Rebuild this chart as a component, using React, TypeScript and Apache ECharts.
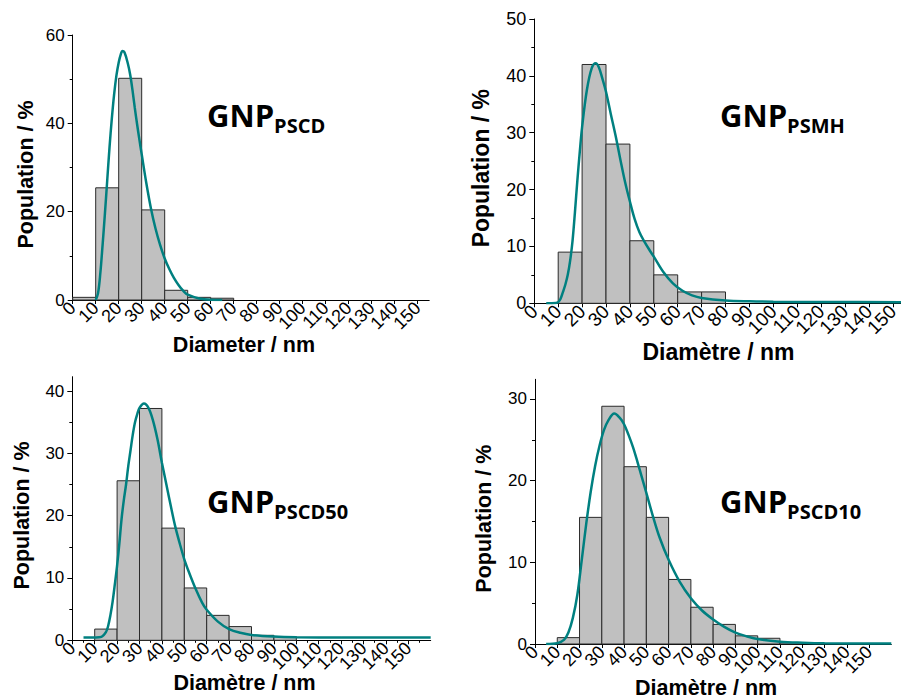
import React, { useEffect, useRef } from 'react';
import * as echarts from 'echarts';

// ---------- data ----------
const BIN_WIDTH = 10;

// GNP PSCD (top-left)
const pscdBinStart = [0, 10, 20, 30, 40, 50, 60];
const pscdPopulation = [0.6, 25.4, 50.2, 20.4, 2.2, 0.6, 0.4];
const pscdFitX = [10, 11, 12, 13, 14, 15, 16, 17, 18, 19, 20, 21, 21.6, 22.5, 24, 25, 26, 27, 28, 29, 30, 32, 34, 36, 38, 40, 42, 44, 46, 48, 50, 55, 60, 65];
const pscdFitY = [0, 1.5, 6, 12.5, 19.5, 27, 34.5, 41, 46.5, 50.8, 53.8, 55.8, 56.4, 56.1, 53.5, 51, 47.5, 43.5, 39.8, 36.3, 33, 26.5, 20.8, 16.2, 12.5, 9.4, 7, 5, 3.4, 2.1, 1.2, 0.35, 0.05, 0];

// GNP PSMH (top-right)
const psmhBinStart = [10, 20, 30, 40, 50, 60, 70];
const psmhPopulation = [9, 42, 28, 11, 5, 2, 2];
const psmhFitX = [5, 9, 10, 11, 12, 13, 14, 15, 16, 17, 18, 19, 20, 22, 24, 25.7, 27, 28.5, 30, 32, 34, 36, 38, 40, 42, 44, 46, 48, 50, 54, 58, 62, 66, 70, 80, 90, 100, 120, 160];
const psmhFitY = [0, 0.05, 0.2, 0.8, 2, 3.3, 5, 7.5, 11, 16, 21.5, 26.5, 31, 37.5, 41.3, 42.2, 41.5, 39.5, 37.2, 33.3, 29.5, 25.3, 21.3, 17.9, 14.8, 12.5, 10.9, 9.5, 8.2, 5.5, 3.5, 2.2, 1.4, 0.95, 0.5, 0.35, 0.28, 0.22, 0.2];

// GNP PSCD50 (bottom-left)
const pscd50BinStart = [10, 20, 30, 40, 50, 60, 70, 80, 90];
const pscd50Population = [1.8, 25.6, 37.2, 18.0, 8.4, 4.0, 2.2, 0.8, 0.6];
const pscd50FitX = [5, 10, 13, 15, 16, 17, 18, 19, 20, 21, 22, 23, 24, 25, 26, 27, 28, 29, 30, 32, 34, 36, 38, 40, 42, 44, 46, 48, 50, 52, 55, 58, 60, 65, 70, 75, 80, 90, 100, 120, 160];
const pscd50FitY = [0.43, 0.45, 0.55, 1.3, 2.3, 4, 6.2, 9, 12, 15.5, 19.5, 22.5, 25, 28, 30.5, 33, 35, 36.3, 37.3, 38, 37.3, 35.3, 32.3, 28.5, 25, 21.5, 18.2, 15.5, 13, 11, 8.3, 6, 4.9, 3, 1.8, 1.2, 0.85, 0.6, 0.5, 0.45, 0.43];

// GNP PSCD10 (bottom-right)
const pscd10BinStart = [10, 20, 30, 40, 50, 60, 70, 80, 90, 100, 110];
const pscd10Population = [0.78, 15.5, 29.1, 21.7, 15.5, 7.9, 4.5, 2.4, 1.0, 0.7, 0.15];
const pscd10FitX = [5, 10, 13, 15, 17, 19, 21, 23, 25, 27, 29, 31, 33, 35.6, 38, 40, 42, 44, 46, 48, 50, 53, 56, 60, 65, 70, 75, 80, 85, 90, 95, 100, 110, 120, 130, 160];
const pscd10FitY = [0, 0.1, 0.5, 1.4, 3.2, 6, 10.3, 14.7, 18.6, 21.8, 24.3, 26.2, 27.4, 28.2, 27.7, 26.9, 25.6, 24.1, 22.3, 20.4, 18.5, 15.6, 13, 10.3, 7.6, 5.6, 4.1, 3, 2.1, 1.4, 0.95, 0.6, 0.28, 0.15, 0.08, 0.05];

// tick values
const xTickValues = [0, 10, 20, 30, 40, 50, 60, 70, 80, 90, 100, 110, 120, 130, 140, 150];
const xLabelsEven = [0, 20, 40, 60, 80, 100, 120, 140];
const xLabelsOdd = [10, 30, 50, 70, 90, 110, 130, 150];
const xMinorPscd50 = [5, 15, 25, 35, 45, 55, 65, 75, 85, 95, 105, 115, 125, 135, 145, 155];
const yTicksPscd = [0, 20, 40, 60];
const yMinorPscd = [10, 30, 50];
const yTicksPsmh = [0, 10, 20, 30, 40, 50];
const yMinorPsmh = [5, 15, 25, 35, 45];
const yTicksPscd50 = [0, 10, 20, 30, 40];
const yMinorPscd50 = [5, 15, 25, 35];
const yTicksPscd10 = [0, 10, 20, 30];
const yMinorPscd10 = [5, 15, 25];

// texts
const yTitle = 'Population / %';
const xTitleEn = 'Diameter / nm';
const xTitleFr = 'Diamètre / nm';
const labelMain = 'GNP';
const labelSubs = ['PSCD', 'PSMH', 'PSCD50', 'PSCD10'];

// ---------- layout ----------
const AXIS_FONT = '"Liberation Sans", Arial, sans-serif';
const LABEL_FONT = '"Open Sans", "Noto Sans", sans-serif';
const TEAL = '#008080';

const panels = [
  {
    left: 72.7, top: 35, width: 356.5, height: 265, xMax: 155, yMax: 60,
    bins: pscdBinStart, pop: pscdPopulation, fitX: pscdFitX, fitY: pscdFitY,
    yTicks: yTicksPscd, yMinor: yMinorPscd, xMinor: null as number[] | null,
    xTitle: xTitleEn, tickFont: 17, xTickFont: 18, titleFont: 21.5, xGap: 34, yGap: 36,
    labelX: 207, labelTop: 95,
  },
  {
    left: 534.3, top: 19, width: 382.4, height: 284.3, xMax: 160, yMax: 50,
    bins: psmhBinStart, pop: psmhPopulation, fitX: psmhFitX, fitY: psmhFitY,
    yTicks: yTicksPsmh, yMinor: yMinorPsmh, xMinor: null as number[] | null,
    xTitle: xTitleFr, tickFont: 18, xTickFont: 19, titleFont: 23, xGap: 37, yGap: 42,
    labelX: 720, labelTop: 95,
  },
  {
    left: 72.3, top: 376.7, width: 358.4, height: 263.6, xMax: 160, yMax: 42.3,
    bins: pscd50BinStart, pop: pscd50Population, fitX: pscd50FitX, fitY: pscd50FitY,
    yTicks: yTicksPscd50, yMinor: yMinorPscd50, xMinor: xMinorPscd50 as number[] | null,
    xTitle: xTitleFr, tickFont: 17, xTickFont: 18, titleFont: 21.5, xGap: 32, yGap: 39,
    labelX: 207, labelTop: 481,
  },
  {
    left: 535, top: 379.3, width: 356.3, height: 264.7, xMax: 160, yMax: 32.4,
    bins: pscd10BinStart, pop: pscd10Population, fitX: pscd10FitX, fitY: pscd10FitY,
    yTicks: yTicksPscd10, yMinor: yMinorPscd10, xMinor: null as number[] | null,
    xTitle: xTitleFr, tickFont: 17, xTickFont: 18, titleFont: 21.5, xGap: 33, yGap: 40,
    labelX: 720, labelTop: 481,
  },
];

function buildOption() {
  const grid: any[] = [];
  const xAxis: any[] = [];
  const yAxis: any[] = [];
  const series: any[] = [];
  const graphic: any[] = [];
  const extraX: any[] = [];

  panels.forEach((p, i) => {
    grid.push({
      left: p.left, top: p.top, width: p.width, height: p.height,
      containLabel: false, outerBoundsMode: 'none',
    });

    const labelStyle = {
      rotate: 45,
      margin: 5,
      color: '#000',
      fontSize: p.xTickFont,
      fontFamily: AXIS_FONT,
      showMinLabel: true,
      showMaxLabel: true,
      hideOverlap: false,
    };

    // main x axis: line, ticks, even labels, title
    xAxis.push({
      gridIndex: i,
      type: 'value',
      position: 'bottom',
      min: 0,
      max: p.xMax,
      axisLine: { show: true, onZero: false, lineStyle: { color: '#000', width: 1 } },
      axisTick: { show: true, customValues: xTickValues, length: 4, lineStyle: { color: '#000' } },
      axisLabel: { ...labelStyle, customValues: xLabelsEven },
      splitLine: { show: false },
      name: p.xTitle,
      nameLocation: 'middle',
      nameGap: p.xGap,
      nameMoveOverlap: false,
      nameTextStyle: {
        color: '#000',
        fontSize: p.titleFont,
        fontWeight: 'bold',
        fontFamily: AXIS_FONT,
        lineHeight: p.titleFont,
        padding: [0, 14, 0, 0],
      },
    });

    // companion x axis: odd labels only
    extraX.push({
      gridIndex: i,
      type: 'value',
      position: 'bottom',
      min: 0,
      max: p.xMax,
      axisLine: { show: false, onZero: false },
      axisTick: { show: false },
      axisLabel: { ...labelStyle, customValues: xLabelsOdd },
      splitLine: { show: false },
    });

    if (p.xMinor) {
      extraX.push({
        gridIndex: i,
        type: 'value',
        position: 'bottom',
        min: 0,
        max: p.xMax,
        axisLine: { show: false, onZero: false },
        axisTick: { show: true, customValues: p.xMinor, length: 2.5, lineStyle: { color: '#000' } },
        axisLabel: { show: false },
        splitLine: { show: false },
      });
    }

    yAxis.push({
      gridIndex: i,
      type: 'value',
      position: 'left',
      min: 0,
      max: p.yMax,
      axisLine: { show: true, lineStyle: { color: '#000', width: 1 } },
      axisTick: { show: true, customValues: p.yTicks, length: 5, lineStyle: { color: '#000' } },
      axisLabel: {
        customValues: p.yTicks,
        margin: 8,
        color: '#000',
        fontSize: p.tickFont,
        fontFamily: AXIS_FONT,
        showMinLabel: true,
        showMaxLabel: true,
      },
      splitLine: { show: false },
      name: yTitle,
      nameLocation: 'middle',
      nameGap: p.yGap,
      nameTextStyle: {
        color: '#000',
        fontSize: p.titleFont,
        fontWeight: 'bold',
        fontFamily: AXIS_FONT,
        padding: [0, 14, 0, 0],
      },
    });
    yAxis.push({
      gridIndex: i,
      type: 'value',
      position: 'left',
      min: 0,
      max: p.yMax,
      axisLine: { show: false },
      axisTick: { show: true, customValues: p.yMinor, length: 3, lineStyle: { color: '#000' } },
      axisLabel: { show: false },
      splitLine: { show: false },
    });

    series.push({
      type: 'custom',
      coordinateSystem: 'cartesian2d',
      xAxisIndex: i,
      yAxisIndex: 2 * i,
      encode: { x: [0, 1], y: 2 },
      data: p.bins.map((s, k) => [s, s + BIN_WIDTH, p.pop[k]]),
      renderItem: (params: any, api: any) => {
        const a = api.coord([api.value(0), api.value(2)]);
        const b = api.coord([api.value(1), 0]);
        return {
          type: 'rect',
          shape: { x: a[0], y: a[1], width: b[0] - a[0], height: b[1] - a[1] },
          style: { fill: '#c0c0c0', stroke: '#2a2a2a', lineWidth: 1 },
        };
      },
      z: 2,
    });

    series.push({
      type: 'line',
      xAxisIndex: i,
      yAxisIndex: 2 * i,
      data: p.fitX.map((x, k) => [x, p.fitY[k]]),
      smooth: 0.35,
      symbol: 'none',
      showSymbol: false,
      lineStyle: { color: TEAL, width: 2.5 },
      z: 3,
    });

    graphic.push({
      type: 'text',
      x: p.labelX,
      y: p.labelTop,
      z: 10,
      style: {
        text: `{a|${labelMain}}{b|${labelSubs[i]}}`,
        align: 'left',
        verticalAlign: 'top',
        rich: {
          a: { fontSize: 31, fontWeight: 'bold', fontFamily: LABEL_FONT, lineHeight: 40, fill: '#000' },
          b: { fontSize: 20, fontWeight: 'bold', fontFamily: LABEL_FONT, lineHeight: 20, verticalAlign: 'bottom', fill: '#000' },
        },
      },
    });
  });

  return {
    animation: false,
    backgroundColor: '#fff',
    grid,
    xAxis: [...xAxis, ...extraX],
    yAxis,
    series,
    graphic,
  };
}

export default function App() {
  const ref = useRef<HTMLDivElement>(null);
  useEffect(() => {
    if (!ref.current) return;
    const chart = echarts.init(ref.current, undefined, { renderer: 'svg' });
    chart.setOption(buildOption() as any);
    return () => chart.dispose();
  }, []);
  return (
    <div
      ref={ref}
      style={{ position: 'absolute', left: 0, top: 0, width: 901, height: 700, background: '#fff' }}
    />
  );
}
